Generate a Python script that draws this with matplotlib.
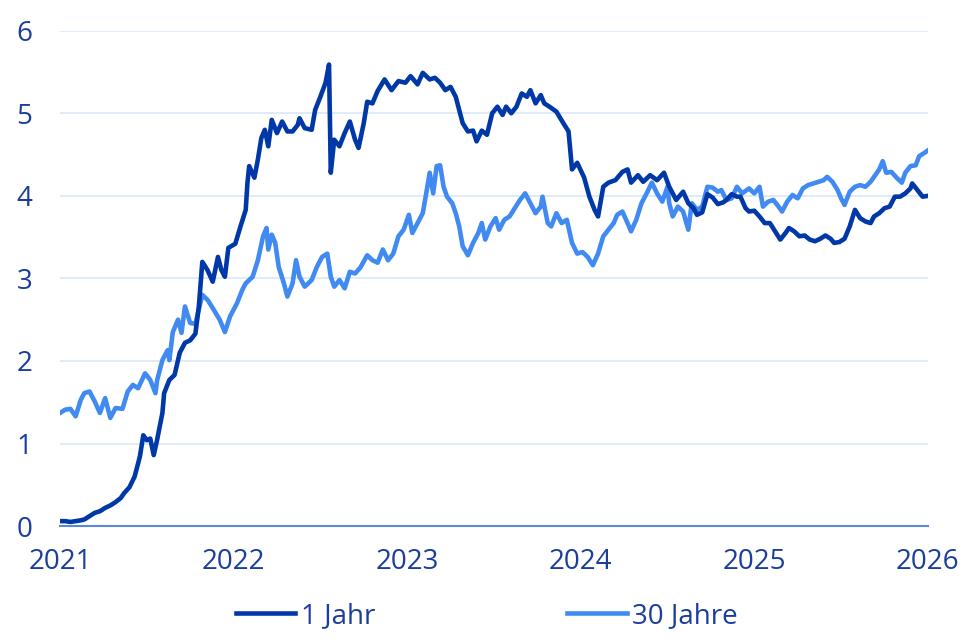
import matplotlib.pyplot as plt

# Zinsen in Prozent, Zeitachse in Dezimaljahren
t_1j = [
    2021.00, 2021.03, 2021.06, 2021.09, 2021.12, 2021.14, 2021.17, 2021.20, 2021.23, 2021.26,
    2021.29, 2021.32, 2021.35, 2021.37, 2021.40, 2021.43, 2021.46, 2021.48, 2021.50, 2021.52,
    2021.54, 2021.56, 2021.59, 2021.60, 2021.63, 2021.66, 2021.69, 2021.72, 2021.75, 2021.78,
    2021.80, 2021.82, 2021.85, 2021.88, 2021.91, 2021.93, 2021.95, 2021.97, 2022.01, 2022.04,
    2022.07, 2022.08, 2022.09, 2022.12, 2022.14, 2022.16, 2022.18, 2022.20, 2022.22, 2022.25,
    2022.28, 2022.31, 2022.34, 2022.37, 2022.38, 2022.41, 2022.45, 2022.47, 2022.50, 2022.53,
    2022.55, 2022.56, 2022.58, 2022.61, 2022.64, 2022.67, 2022.70, 2022.72, 2022.75, 2022.77,
    2022.80, 2022.83, 2022.87, 2022.91, 2022.95, 2022.99, 2023.02, 2023.06, 2023.09, 2023.13,
    2023.16, 2023.19, 2023.22, 2023.25, 2023.28, 2023.30, 2023.32, 2023.35, 2023.38, 2023.40,
    2023.43, 2023.46, 2023.49, 2023.52, 2023.55, 2023.57, 2023.60, 2023.63, 2023.66, 2023.69,
    2023.71, 2023.74, 2023.77, 2023.79, 2023.82, 2023.86, 2023.90, 2023.93, 2023.95, 2023.98,
    2024.02, 2024.05, 2024.08, 2024.10, 2024.13, 2024.16, 2024.20, 2024.24, 2024.27, 2024.29,
    2024.33, 2024.36, 2024.40, 2024.44, 2024.48, 2024.51, 2024.55, 2024.59, 2024.62, 2024.65,
    2024.67, 2024.70, 2024.73, 2024.76, 2024.79, 2024.82, 2024.84, 2024.87, 2024.90, 2024.92,
    2024.95, 2024.97, 2025.00, 2025.03, 2025.06, 2025.09, 2025.12, 2025.15, 2025.18, 2025.20,
    2025.23, 2025.26, 2025.29, 2025.32, 2025.35, 2025.38, 2025.41, 2025.44, 2025.46, 2025.49,
    2025.52, 2025.55, 2025.58, 2025.61, 2025.64, 2025.67, 2025.69, 2025.72, 2025.75, 2025.78,
    2025.81, 2025.84, 2025.87, 2025.90, 2025.91, 2025.94, 2025.97, 2026.00,
]
rate_1j = [
    0.06, 0.06, 0.05, 0.06, 0.07, 0.08, 0.12, 0.16, 0.18, 0.22,
    0.25, 0.29, 0.34, 0.40, 0.47, 0.60, 0.84, 1.10, 1.04, 1.06,
    0.86, 1.05, 1.37, 1.61, 1.77, 1.83, 2.10, 2.22, 2.25, 2.33,
    2.66, 3.20, 3.10, 2.96, 3.26, 3.10, 3.02, 3.37, 3.42, 3.63,
    3.83, 4.16, 4.36, 4.22, 4.44, 4.70, 4.80, 4.60, 4.92, 4.76,
    4.90, 4.78, 4.78, 4.86, 4.94, 4.82, 4.80, 5.04, 5.20, 5.37,
    5.59, 4.28, 4.68, 4.60, 4.76, 4.90, 4.68, 4.58, 4.88, 5.14,
    5.12, 5.27, 5.41, 5.28, 5.39, 5.37, 5.45, 5.35, 5.49, 5.41,
    5.43, 5.37, 5.28, 5.32, 5.20, 5.04, 4.88, 4.78, 4.79, 4.66,
    4.79, 4.74, 5.00, 5.08, 4.98, 5.08, 5.00, 5.08, 5.24, 5.20,
    5.28, 5.12, 5.22, 5.12, 5.08, 5.02, 4.88, 4.78, 4.32, 4.40,
    4.22, 3.99, 3.83, 3.75, 4.11, 4.16, 4.19, 4.29, 4.32, 4.16,
    4.25, 4.17, 4.25, 4.19, 4.28, 4.11, 3.95, 4.05, 3.91, 3.85,
    3.77, 3.80, 4.02, 3.98, 3.90, 3.92, 3.95, 4.02, 3.99, 3.99,
    3.85, 3.81, 3.82, 3.75, 3.67, 3.67, 3.57, 3.47, 3.55, 3.61,
    3.57, 3.51, 3.52, 3.47, 3.45, 3.48, 3.52, 3.48, 3.43, 3.44,
    3.48, 3.63, 3.83, 3.73, 3.69, 3.67, 3.75, 3.79, 3.85, 3.87,
    3.99, 3.99, 4.03, 4.09, 4.15, 4.07, 3.99, 4.00,
]

t_30j = [
    2021.00, 2021.03, 2021.06, 2021.09, 2021.12, 2021.14, 2021.17, 2021.20, 2021.23, 2021.26,
    2021.29, 2021.32, 2021.36, 2021.39, 2021.42, 2021.45, 2021.49, 2021.52, 2021.55, 2021.56,
    2021.59, 2021.62, 2021.63, 2021.65, 2021.68, 2021.70, 2021.72, 2021.75, 2021.78, 2021.82,
    2021.85, 2021.88, 2021.92, 2021.95, 2021.98, 2022.02, 2022.05, 2022.07, 2022.11, 2022.14,
    2022.17, 2022.19, 2022.20, 2022.22, 2022.24, 2022.26, 2022.29, 2022.31, 2022.34, 2022.36,
    2022.38, 2022.41, 2022.45, 2022.48, 2022.51, 2022.54, 2022.56, 2022.58, 2022.61, 2022.64,
    2022.67, 2022.70, 2022.73, 2022.77, 2022.80, 2022.83, 2022.86, 2022.89, 2022.92, 2022.95,
    2022.98, 2023.01, 2023.03, 2023.06, 2023.09, 2023.11, 2023.13, 2023.15, 2023.17, 2023.19,
    2023.21, 2023.23, 2023.26, 2023.28, 2023.30, 2023.32, 2023.35, 2023.38, 2023.41, 2023.43,
    2023.45, 2023.48, 2023.51, 2023.53, 2023.56, 2023.59, 2023.62, 2023.65, 2023.68, 2023.71,
    2023.74, 2023.77, 2023.78, 2023.81, 2023.83, 2023.86, 2023.89, 2023.92, 2023.95, 2023.98,
    2024.01, 2024.04, 2024.07, 2024.10, 2024.13, 2024.16, 2024.19, 2024.21, 2024.24, 2024.27,
    2024.29, 2024.32, 2024.35, 2024.38, 2024.41, 2024.44, 2024.47, 2024.50, 2024.51, 2024.53,
    2024.56, 2024.59, 2024.62, 2024.64, 2024.67, 2024.70, 2024.73, 2024.76, 2024.79, 2024.81,
    2024.84, 2024.87, 2024.90, 2024.93, 2024.97, 2025.00, 2025.03, 2025.05, 2025.08, 2025.11,
    2025.14, 2025.16, 2025.19, 2025.22, 2025.25, 2025.28, 2025.31, 2025.34, 2025.37, 2025.40,
    2025.42, 2025.45, 2025.48, 2025.50, 2025.52, 2025.55, 2025.58, 2025.61, 2025.64, 2025.67,
    2025.69, 2025.72, 2025.74, 2025.76, 2025.79, 2025.82, 2025.85, 2025.87, 2025.90, 2025.93,
    2025.95, 2025.98, 2026.00,
]
rate_30j = [
    1.37, 1.41, 1.42, 1.33, 1.53, 1.61, 1.63, 1.51, 1.37, 1.55,
    1.31, 1.43, 1.42, 1.63, 1.71, 1.67, 1.85, 1.77, 1.61, 1.77,
    2.01, 2.13, 2.01, 2.35, 2.50, 2.34, 2.66, 2.46, 2.45, 2.80,
    2.74, 2.64, 2.50, 2.35, 2.54, 2.70, 2.86, 2.94, 3.02, 3.22,
    3.51, 3.61, 3.35, 3.53, 3.43, 3.14, 2.94, 2.78, 2.94, 3.22,
    3.02, 2.90, 2.98, 3.14, 3.26, 3.30, 3.02, 2.90, 2.98, 2.88,
    3.08, 3.06, 3.13, 3.28, 3.22, 3.19, 3.35, 3.22, 3.30, 3.51,
    3.59, 3.77, 3.55, 3.67, 3.79, 4.03, 4.28, 4.03, 4.36, 4.37,
    4.11, 3.99, 3.91, 3.79, 3.63, 3.39, 3.28, 3.43, 3.55, 3.67,
    3.47, 3.63, 3.73, 3.59, 3.71, 3.75, 3.85, 3.95, 4.03, 3.91,
    3.79, 3.87, 3.99, 3.67, 3.63, 3.79, 3.67, 3.71, 3.43, 3.30,
    3.32, 3.26, 3.16, 3.30, 3.51, 3.59, 3.67, 3.77, 3.81, 3.67,
    3.57, 3.71, 3.91, 4.03, 4.16, 4.03, 3.93, 4.11, 3.91, 3.75,
    3.87, 3.81, 3.59, 3.91, 3.83, 3.87, 4.11, 4.10, 4.05, 4.07,
    3.95, 3.97, 4.11, 4.03, 4.09, 4.03, 4.11, 3.87, 3.93, 3.95,
    3.87, 3.81, 3.93, 4.01, 3.97, 4.09, 4.13, 4.15, 4.17, 4.19,
    4.23, 4.17, 4.07, 3.97, 3.89, 4.05, 4.11, 4.13, 4.11, 4.17,
    4.23, 4.32, 4.42, 4.28, 4.29, 4.22, 4.16, 4.28, 4.36, 4.37,
    4.48, 4.52, 4.55,
]

years = [2021, 2022, 2023, 2024, 2025, 2026]
y_ticks = [0, 1, 2, 3, 4, 5, 6]
labels = ["1 Jahr", "30 Jahre"]

DARK = "#0038a8"
LIGHT = "#418af2"
TEXT = "#1a3d9e"
GRID = "#d8e7fa"

plt.rcParams["font.family"] = ["Open Sans", "DejaVu Sans"]

fig = plt.figure(figsize=(9.6, 6.4), dpi=100)
ax = fig.add_axes([0.0625, 0.178, 0.904, 0.774])

ax.plot(t_1j, rate_1j, color=DARK, lw=3.3, solid_joinstyle="round", label=labels[0], zorder=3)
ax.plot(t_30j, rate_30j, color=LIGHT, lw=3.3, solid_joinstyle="round", label=labels[1], zorder=2)

ax.set_xlim(2021, 2026)
ax.set_ylim(0, 6)
ax.set_xticks(years)
ax.set_xticklabels([str(y) for y in years])
ax.set_yticks(y_ticks)
ax.yaxis.grid(True, color=GRID, lw=1.2)
ax.set_axisbelow(True)

for s in ["top", "right", "left"]:
    ax.spines[s].set_visible(False)
ax.spines["bottom"].set_color("#5a88d8")
ax.spines["bottom"].set_linewidth(1.5)

ax.tick_params(axis="both", length=0, labelsize=20, labelcolor=TEXT)
ax.tick_params(axis="x", pad=16)
ax.tick_params(axis="y", pad=20)

fig.legend(loc="center", bbox_to_anchor=(0.507, 0.038), ncol=2, frameon=False,
           fontsize=20, labelcolor=TEXT, handlelength=2.15, handletextpad=0.2,
           columnspacing=6.9)

plt.savefig("out.png")
